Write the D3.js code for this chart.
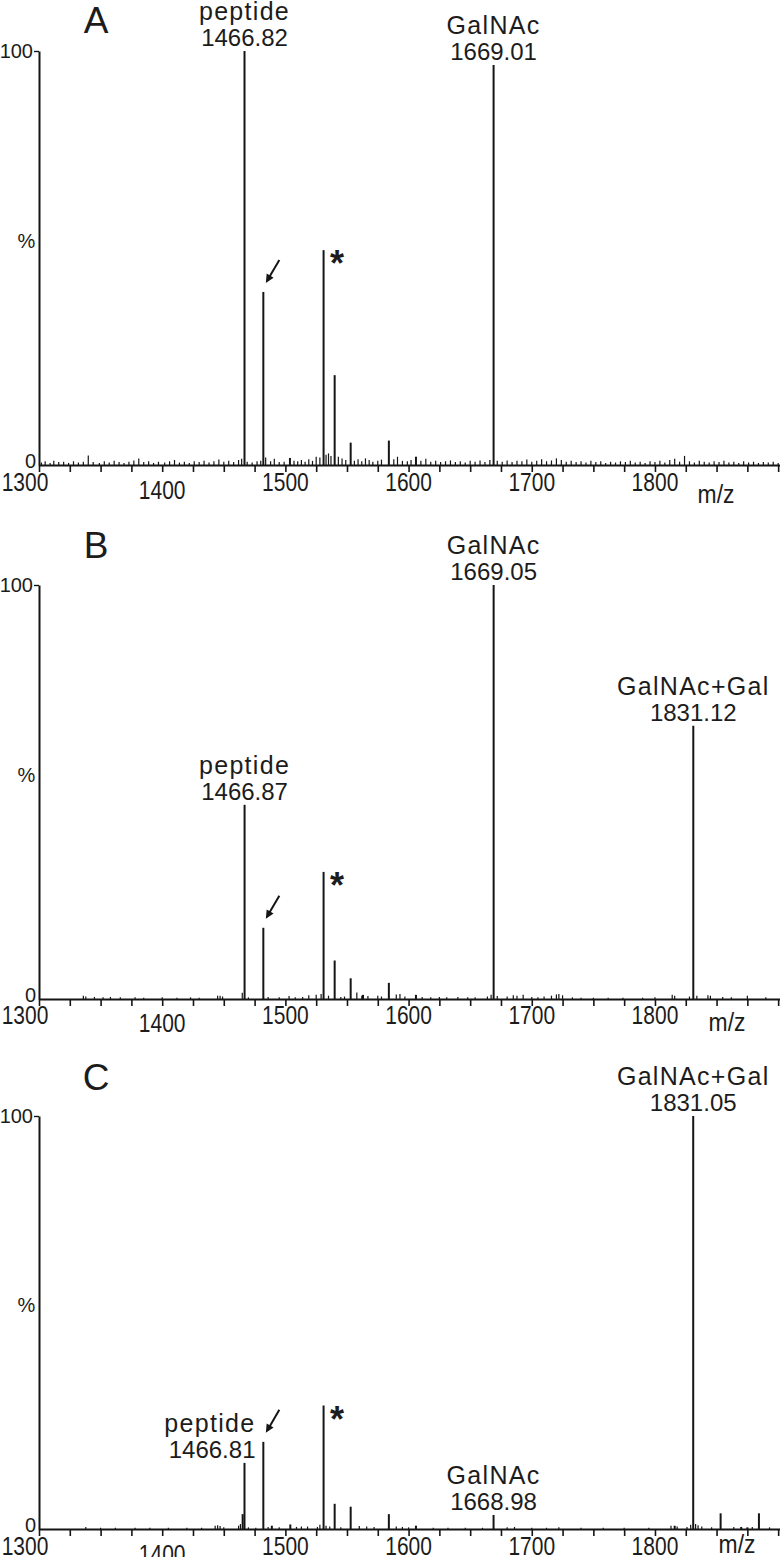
<!DOCTYPE html>
<html><head><meta charset="utf-8">
<script src="https://cdn.jsdelivr.net/npm/d3@7"></script>
<style>
body{margin:0;background:#fff}
svg{display:block}
text{font-family:"Liberation Sans",Arial,Helvetica,sans-serif;fill:#1c1c1c}
</style>
</head><body>
<svg id="c" width="780" height="1557"></svg>
<script>
// ---------------- DATA ----------------
const xTickValues = d3.range(1300, 1901, 25);
const xTickLabels = [1300, 1400, 1500, 1600, 1700, 1800];
const yTickLabels = ["0", "100"];

// Panel A
const peakMzA  = [1466.82, 1482.1, 1503.7, 1531, 1540, 1553, 1584, 1606, 1669.01];
const peakIntA = [100, 41.8, 1.7, 51.9, 21.7, 5.4, 5.9, 2.0, 96.6];
const noiseMzA = [1302,1305,1309,1312,1316,1320,1324,1328,1332,1336,1340,1344,1349,1353,1357,1361,1365,1369,1373,1377,1381,1385,1389,1393,1397,1402,1406,1410,1414,1418,1422,1426,1430,1434,1438,1442,1446,1450,1454,1458,1462,1464.5,1469,1473,1477,1480,1484,1488,1491,1495,1499,1507,1510,1513,1516,1519,1522,1525,1528,1533,1535,1537,1543,1546,1549,1556,1559,1562,1565,1568,1571,1575,1578,1588,1591,1595,1599,1602,1610,1614,1618,1622,1626,1630,1634,1638,1642,1646,1650,1654,1658,1662,1666,1672,1676,1680,1684,1688,1692,1696,1700,1704,1708,1712,1716,1720,1724,1728,1732,1736,1740,1744,1748,1752,1756,1760,1764,1768,1772,1776,1780,1784,1788,1792,1796,1800,1804,1808,1812,1816,1820,1824,1828,1832,1836,1840,1844,1848,1852,1856,1860,1864,1868,1872,1876,1880,1884,1888,1892,1896,1900];
const noiseIntA = [0.6,0.9,0.5,1.0,0.7,0.8,0.5,0.9,0.6,0.8,2.3,0.7,0.5,0.9,0.6,1.0,0.7,0.5,0.8,1.1,1.6,0.7,0.9,0.5,0.8,0.6,0.9,1.2,0.6,0.8,0.5,0.9,0.7,1.0,0.6,0.9,1.3,0.8,1.0,0.7,1.2,1.5,0.8,0.6,0.9,1.0,1.8,0.9,1.5,0.7,0.8,1.0,0.9,1.2,0.8,1.4,1.0,2.0,1.8,2.5,2.8,2.2,2.0,1.6,1.2,1.0,1.4,0.9,1.6,1.2,0.8,1.0,1.3,1.4,2.0,1.0,0.9,1.2,1.0,1.5,0.8,1.0,0.7,0.9,1.1,0.7,0.9,0.6,1.0,0.8,1.1,0.7,1.2,1.0,0.8,1.1,0.7,1.0,0.9,1.3,0.8,1.0,1.4,0.9,1.1,1.6,1.2,0.8,1.0,0.7,0.9,0.6,1.0,0.7,0.9,0.5,0.8,0.6,0.9,0.7,1.0,0.6,0.8,0.5,0.9,0.7,1.0,0.6,1.2,1.5,0.8,2.2,0.9,0.6,1.0,0.8,0.6,0.9,0.7,1.0,0.6,0.8,0.5,0.9,0.6,0.8,0.5,0.7,0.6,0.8,0.5];

// Panel B
const peakMzB  = [1466.87, 1482.1, 1531, 1540, 1553, 1563, 1584, 1606, 1669.05, 1831.12];
const peakIntB = [46.9, 17.2, 30.7, 9.3, 5.0, 1.0, 3.9, 1.0, 100, 66];
const noiseMzB = [1336,1338,1345,1352,1358,1366,1378,1385,1400,1412,1423,1430,1445,1447,1449,1465,1470,1486,1495,1503,1508,1514,1519,1525,1529,1535,1545,1548,1558,1562,1567,1575,1578,1590,1593,1597,1611,1618,1625,1631,1640,1648,1654,1664,1667,1672,1680,1685,1688,1693,1700,1705,1710,1716,1720,1722,1725,1733,1740,1750,1762,1774,1790,1800,1814,1816,1828,1834,1843,1845,1855,1862,1875,1890];
const noiseIntB = [0.8,0.6,0.5,0.4,0.5,0.4,0.4,0.3,0.4,0.3,0.4,0.3,0.8,0.8,0.6,1.5,0.4,0.5,0.4,0.7,0.4,0.5,0.9,1.0,1.2,0.8,0.5,0.6,1.6,0.8,0.7,0.8,0.6,1.1,1.2,0.6,0.5,0.4,0.5,0.4,0.5,0.4,0.4,0.6,1.0,0.7,0.6,0.9,0.8,1.0,0.5,0.4,0.6,0.8,1.1,1.2,0.9,0.4,0.3,0.3,0.3,0.3,0.3,0.4,1.0,0.8,0.6,0.8,0.9,0.8,0.5,0.4,0.8,0.4];

// Panel C
const peakMzC  = [1465.3, 1466.81, 1482.1, 1489, 1504, 1531, 1540, 1553, 1584, 1606, 1668.98, 1816, 1831.05, 1853.3, 1870, 1875, 1884.4];
const peakIntC = [3.6, 16, 21.1, 0.8, 1.1, 29.9, 6.1, 5.4, 3.6, 0.8, 3.4, 0.8, 100, 3.8, 0.5, 0.4, 3.8];
const noiseMzC = [1338,1350,1362,1378,1390,1405,1420,1432,1443,1445,1447,1450,1462,1463.5,1470,1476,1486,1495,1509,1513,1518,1526,1528,1533,1536,1545,1560,1566,1572,1590,1595,1600,1620,1632,1646,1660,1680,1686,1700,1712,1722,1740,1758,1775,1795,1813,1818,1826,1829,1833,1835,1838,1846,1864,1879,1893];
const noiseIntC = [0.5,0.3,0.3,0.3,0.3,0.3,0.3,0.3,0.8,0.9,0.7,0.4,0.8,1.2,0.4,0.3,0.5,0.4,0.5,0.6,0.6,0.5,1.0,0.8,0.6,0.4,0.7,0.6,0.5,0.6,0.5,0.4,0.3,0.3,0.3,0.3,0.4,0.5,0.3,0.3,0.4,0.3,0.3,0.3,0.3,0.8,0.6,0.5,1.0,1.2,0.9,0.6,0.4,0.5,0.5,0.4];

// Annotations
const annoNameA = ["peptide", "GalNAc"];
const annoNumA  = ["1466.82", "1669.01"];
const annoNameB = ["peptide", "GalNAc", "GalNAc+Gal"];
const annoNumB  = ["1466.87", "1669.05", "1831.12"];
const annoNameC = ["peptide", "GalNAc", "GalNAc+Gal"];
const annoNumC  = ["1466.81", "1668.98", "1831.05"];
const arrowMz = 1482.1;   // peak marked with arrow
const starMz = 1531;      // peak marked with *

// ---------------- LAYOUT ----------------
const panels = [
  {letter:"A", top:51,   base:465,  letterY:33,   mz:peakMzA, it:peakIntA, nmz:noiseMzA, nit:noiseIntA, names:annoNameA, nums:annoNumA, lblDy:26, mzPos:[716,503]},
  {letter:"B", top:585,  base:999,  letterY:558,  mz:peakMzB, it:peakIntB, nmz:noiseMzB, nit:noiseIntB, names:annoNameB, nums:annoNumB, lblDy:25, mzPos:[727,1031]},
  {letter:"C", top:1116, base:1529, letterY:1090, mz:peakMzC, it:peakIntC, nmz:noiseMzC, nit:noiseIntC, names:annoNameC, nums:annoNumC, lblDy:26, mzPos:[737,1553]}
];

const svg = d3.select("#c");
const x = d3.scaleLinear().domain([1300, 1901.5]).range([39, 780]);
const ink = "#151515";

panels.forEach((p, pi) => {
  const y = d3.scaleLinear().domain([0, 100]).range([p.base, p.top]);
  const g = svg.append("g");

  // noise
  g.append("g").selectAll("line").data(d3.zip(p.nmz, p.nit)).join("line")
    .attr("x1", d => x(d[0])).attr("x2", d => x(d[0]))
    .attr("y1", y(0)).attr("y2", d => y(d[1]))
    .attr("stroke", ink).attr("stroke-width", 1.2);

  // peaks
  g.append("g").selectAll("line").data(d3.zip(p.mz, p.it)).join("line")
    .attr("x1", d => x(d[0])).attr("x2", d => x(d[0]))
    .attr("y1", y(0)).attr("y2", d => y(d[1]))
    .attr("stroke", ink).attr("stroke-width", 2);

  // x axis
  const xAxis = d3.axisBottom(x).tickValues(xTickValues).tickSize(7).tickSizeOuter(0).tickFormat("");
  const xa = g.append("g").attr("transform", `translate(0,${p.base})`).call(xAxis);
  xa.select(".domain").attr("stroke", ink).attr("stroke-width", 2);
  xa.selectAll(".tick line").attr("stroke", ink).attr("stroke-width", 1.6);

  // x tick labels (condensed)
  g.append("g").selectAll("text").data(xTickLabels).join("text")
    .attr("transform", (d, i) => {
      let cx = x(d), cy = p.base + p.lblDy;
      if (i === 0) cx = x(d) - 14;
      if (i === 1) { cy += 8; }
      return `translate(${cx},${cy}) scale(0.84,1)`;
    })
    .attr("text-anchor", "middle").attr("font-size", 25).text(d => d);

  g.append("text").attr("transform", `translate(${p.mzPos[0]},${p.mzPos[1]}) scale(0.88,1)`)
    .attr("text-anchor", "middle").attr("font-size", 26).text("m/z");

  // y axis
  const yAxis = d3.axisLeft(y).tickValues([100]).tickSize(5).tickSizeOuter(0).tickFormat("");
  const ya = g.append("g").attr("transform", `translate(${x(1300)},0)`).call(yAxis);
  ya.select(".domain").attr("stroke", ink).attr("stroke-width", 2);
  ya.selectAll(".tick line").attr("stroke", ink).attr("stroke-width", 1.4);

  g.append("text").attr("x", 33).attr("y", y(100) + 7).attr("text-anchor", "end")
    .attr("font-size", 20).text(yTickLabels[1]);
  g.append("text").attr("x", 36).attr("y", y(0) + 3).attr("text-anchor", "end")
    .attr("font-size", 20).text(yTickLabels[0]);
  g.append("text").attr("x", 26.5).attr("y", p.base - 217).attr("text-anchor", "middle")
    .attr("font-size", 20).text("%");

  // panel letter
  g.append("text").attr("x", 96).attr("y", p.letterY).attr("text-anchor", "middle")
    .attr("font-size", 37).text(p.letter);

  // annotations
  p.names.forEach((nm, i) => {
    const num = p.nums[i];
    const mzv = +num;
    let k = 0, best = 1e9;
    p.mz.forEach((m, j) => { if (Math.abs(m - mzv) < best) { best = Math.abs(m - mzv); k = j; } });
    const px = x(p.mz[k]), py = y(p.it[k]);
    let anchor = "middle", tx = px;
    if (p.letter === "C" && nm === "peptide") { anchor = "end"; tx = px + 11; }
    g.append("text").attr("x", tx).attr("y", py - 5).attr("text-anchor", anchor)
      .attr("font-size", 24).text(num);
    g.append("text").attr("x", tx).attr("y", Math.max(py - 31, 19)).attr("text-anchor", anchor)
      .attr("font-size", 25).attr("letter-spacing", 1.3).text(nm);
  });

  // arrow
  const ai = p.mz.indexOf(arrowMz);
  const ax = x(arrowMz), ay = y(p.it[ai]);
  const x0 = ax + 16, y0 = ay - 32, x1 = ax + 2.5, y1 = ay - 9;
  const ang = Math.atan2(y1 - y0, x1 - x0);
  const hl = 8.5, hw = 4;
  const bx = x1 - hl * Math.cos(ang), by = y1 - hl * Math.sin(ang);
  g.append("line").attr("x1", x0).attr("y1", y0).attr("x2", bx + Math.cos(ang)).attr("y2", by + Math.sin(ang))
    .attr("stroke", ink).attr("stroke-width", 2);
  g.append("path").attr("d", `M${x1},${y1} L${bx - hw * Math.sin(ang)},${by + hw * Math.cos(ang)} L${bx + hw * Math.sin(ang)},${by - hw * Math.cos(ang)} Z`)
    .attr("fill", ink);

  // asterisk
  const si = p.mz.indexOf(starMz);
  g.append("text").attr("x", x(starMz) + 13.5).attr("y", y(p.it[si]) + 26)
    .attr("text-anchor", "middle").attr("font-size", 36).attr("font-weight", "bold").text("*");
});
</script>
</body></html>
